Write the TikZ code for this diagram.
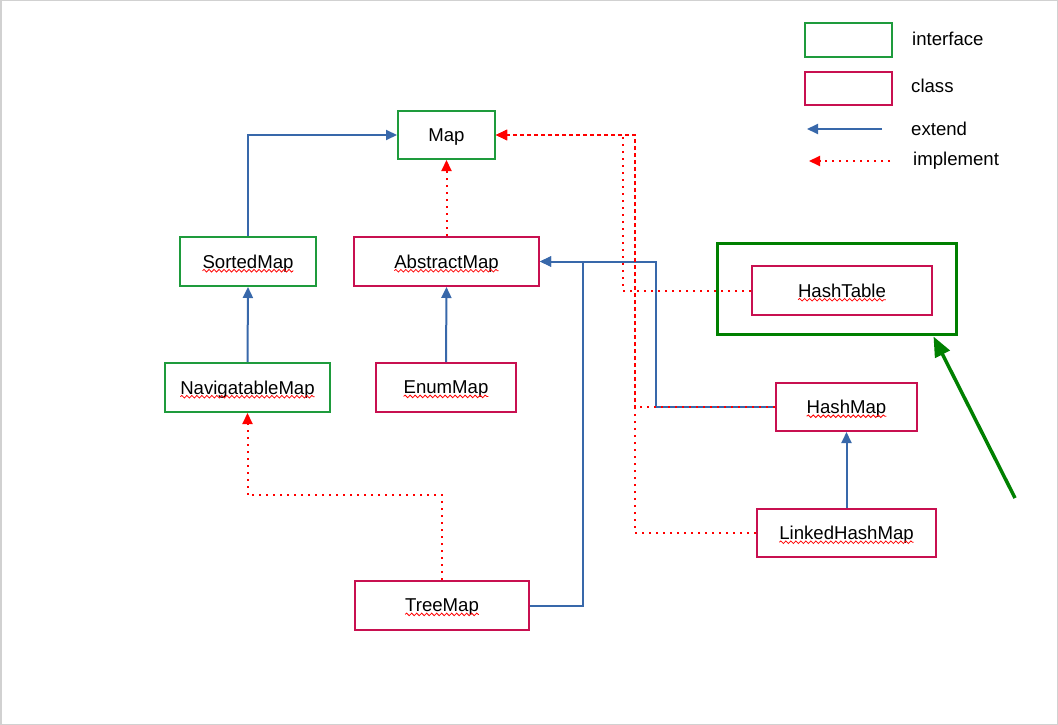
\documentclass[tikz,border=0pt]{standalone}
\usepackage{fontspec}
\setmainfont{Liberation Sans}
\usepackage{tikz}
\usetikzlibrary{arrows.meta,decorations.pathmorphing}
\definecolor{ifgreen}{RGB}{30,155,60}
\definecolor{clsred}{RGB}{200,16,80}
\definecolor{extblue}{RGB}{56,104,170}
\definecolor{hintgreen}{RGB}{0,128,0}
\newcommand\spellmark[2]{%
	\pgfmathsetmacro\halfw{width("#2")/2}%
	\draw[spell]([xshift=-\halfw pt,yshift=-2.5pt]#1.base)--([xshift=\halfw pt,yshift=-2.5pt]#1.base);}

\begin{document}
\fontsize{18.6}{22}\selectfont
\begin{tikzpicture}[x=1pt,y=-1pt,
	iface/.style={draw=ifgreen,line width=2pt,inner sep=0pt,text depth=0pt},
	cls/.style={draw=clsred,line width=2pt,inner sep=0pt,text depth=0pt},
	ext/.style={draw=extblue,line width=2pt,-{Triangle[length=11pt,width=10pt]}},
	impl/.style={draw=red,line width=2pt,dash pattern=on 2pt off 5pt,-{Triangle[length=11pt,width=10pt]}},
	spell/.style={draw=red,line width=0.8pt,decorate,decoration={snake,amplitude=1.3pt,segment length=5pt}},
	lgd/.style={anchor=west,inner sep=0pt}]
	\useasboundingbox(0,0) rectangle (1058,725);
	\draw[black!18,line width=1.5pt](0.75,0.75) rectangle (1057.25,724.25);
	\node[iface,minimum width=97,minimum height=48]	(Map) at (446.5,135) {Map};
	\node[iface,minimum width=136,minimum height=49] (SortedMap) at (248,261.5) {SortedMap};
	\node[cls,minimum width=185,minimum height=49] (AbstractMap) at (446.5,261.5) {AbstractMap};
	\node[iface,minimum width=165,minimum height=49] (NavigatableMap) at (247.5,387.5) {NavigatableMap};
	\node[cls,minimum width=140,minimum height=49] (EnumMap) at (446,387.5) {EnumMap};
	\node[cls,minimum width=174,minimum height=49] (TreeMap) at (442,605.5) {TreeMap};
	\node[draw=hintgreen,line width=3pt,minimum width=239,minimum height=91] (HTframe) at (836.5,288.5) {};
	\node[cls,minimum width=180,minimum height=49] (HashTable) at (842,290.5) {HashTable};
	\node[cls,minimum width=141,minimum height=48] (HashMap) at (846.5,407) {HashMap};
	\node[cls,minimum width=179,minimum height=48] (LinkedHashMap) at (846.5,533) {LinkedHashMap};
	
		\draw[ext](SortedMap.north) |- (Map.west);
		\draw[ext](NavigatableMap.north)--(SortedMap.south);
		\draw[ext](EnumMap.north)--(AbstractMap.south);
		\draw[ext](TreeMap.east)--++(53,0) |- (AbstractMap.east);
		\draw[ext](HashMap.west)--++(-119,0) |- (AbstractMap.east);
		\draw[ext](LinkedHashMap.north)--(HashMap.south);
		
		\draw[impl](AbstractMap.north)--(Map.south);
		\draw[impl](TreeMap.north)--++(0,-85) -| (NavigatableMap.south);
		\draw[impl](HashTable.west)--++(-128,0) |- (Map.east);
		\draw[impl](HashMap.west)--++(-140,0) |- (Map.east);
		\draw[impl](LinkedHashMap.west)--++(-121,0) |- (Map.east);
		
		\coordinate(hint) at (1015,498);
		\draw[hintgreen,line width=3.5pt,-{Triangle[length=20pt,width=16pt]}](hint)--([xshift=-24pt,yshift=-1pt]HTframe.south east);
	
	\spellmark{SortedMap}{SortedMap}
	\spellmark{AbstractMap}{AbstractMap}
	\spellmark{NavigatableMap}{NavigatableMap}
	\spellmark{EnumMap}{EnumMap}
	\spellmark{TreeMap}{TreeMap}
	\spellmark{HashTable}{HashTable}
	\spellmark{HashMap}{HashMap}
	\spellmark{LinkedHashMap}{LinkedHashMap}
	
	\node[iface,minimum width=87,minimum height=34] (lgdIface) at (848.5,40) {};
	\node[cls,minimum width=87,minimum height=33] (lgdCls) at (848.5,88.5) {};
	\coordinate(extFrom) at (882,129);
	\coordinate(extTo) at (807,129);
	\coordinate(implFrom) at (890,161);
	\coordinate(implTo) at (809,161);
	\draw[ext](extFrom)--(extTo);
	\draw[impl](implFrom)--(implTo);
	\node[lgd] (tIface) at (912,39) {interface};
	\node[lgd] (tCls) at (911,86) {class};
	\node[lgd] (tExt) at (911,129) {extend};
	\node[lgd] (tImpl) at (913,161) {implement};
\end{tikzpicture}
\end{document}
